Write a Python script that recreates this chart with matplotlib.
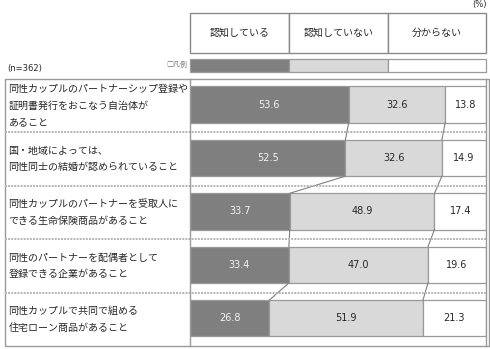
import matplotlib.pyplot as plt
from matplotlib.patches import Rectangle

plt.rcParams['font.family'] = ['Noto Sans CJK JP', 'DejaVu Sans']

# survey items (one row each), possibly over several lines
items = [
    ['同性カップルのパートナーシップ登録や', '証明書発行をおこなう自治体が', 'あること'],
    ['国・地域によっては、', '同性同士の結婚が認められていること'],
    ['同性カップルのパートナーを受取人に', 'できる生命保険商品があること'],
    ['同性のパートナーを配偶者として', '登録できる企業があること'],
    ['同性カップルで共同で組める', '住宅ローン商品があること'],
]
categories = ['認知している', '認知していない', '分からない']
aware = [53.6, 52.5, 33.7, 33.4, 26.8]
not_aware = [32.6, 32.6, 48.9, 47.0, 51.9]
unknown = [13.8, 14.9, 17.4, 19.6, 21.3]
sample_note = '(n=362)'

colors = ['#7f7f7f', '#d9d9d9', '#ffffff']
text_colors = ['#f2f2f2', '#262626', '#262626']
edge = '#9a9a9a'


def main():
    fig = plt.figure(figsize=(4.9, 3.49), dpi=100)
    ax = fig.add_axes([190 / 490, 3 / 349, 296 / 490, 267 / 349])
    ax.set_xlim(0, 100)
    ax.set_ylim(5, 0)
    ax.axis('off')

    bar_h = 0.68
    off = 0.48
    series = [aware, not_aware, unknown]

    # stacked bars
    for i in range(len(items)):
        left = 0
        for k, vals in enumerate(series):
            v = vals[i]
            ax.barh(i + off, v, left=left, height=bar_h, color=colors[k],
                    edgecolor=edge, linewidth=0.9)
            ax.text(left + v / 2, i + off, f'{v:.1f}', ha='center', va='center',
                    fontsize=7, family='DejaVu Sans', color=text_colors[k])
            left += v

    # connector lines between neighbouring bars
    for i in range(len(items) - 1):
        c0 = [aware[i], aware[i] + not_aware[i]]
        c1 = [aware[i + 1], aware[i + 1] + not_aware[i + 1]]
        for a, b in zip(c0, c1):
            ax.plot([a, b], [i + off + bar_h / 2, i + 1 + off - bar_h / 2],
                    color='#808080', lw=0.8)

    # dotted row separators across the label column and the plot
    for i in range(1, len(items)):
        ax.plot([-62.5, 100], [i, i], color='#b5b5b5', lw=1.4,
                linestyle=(0, (1, 0.6)), clip_on=False)

    # item labels in the left column
    pitch = 0.313
    for i, lines in enumerate(items):
        n = len(lines)
        for j, line in enumerate(lines):
            y = i + 0.5 + (j - (n - 1) / 2) * pitch
            ax.text(-61.3, y, line, ha='left', va='center', fontsize=7.2,
                    color='#262626', clip_on=False)

    # frames
    ax.add_patch(Rectangle((-62.5, 0), 163.5, 5, fill=False, edgecolor=edge,
                           lw=1.0, clip_on=False))
    ax.plot([0, 0], [0, 5], color=edge, lw=1.0, clip_on=False)
    ax.plot([100, 100], [0, 5], color=edge, lw=1.0, clip_on=False)

    # header boxes with category names
    bounds = [0, 33.4, 66.9, 100]
    for k, name in enumerate(categories):
        ax.add_patch(Rectangle((bounds[k], -1.236), bounds[k + 1] - bounds[k], 0.749,
                               facecolor='white', edgecolor='#8a8a8a', lw=1.0,
                               clip_on=False))
        ax.text((bounds[k] + bounds[k + 1]) / 2, -0.861, name, ha='center',
                va='center', fontsize=7.2, color='#262626', clip_on=False)
        # legend strip under the headers
        ax.add_patch(Rectangle((bounds[k], -0.375), bounds[k + 1] - bounds[k], 0.244,
                               facecolor=colors[k], edgecolor=edge, lw=0.9,
                               clip_on=False))

    ax.text(-1.0, -0.253, '□凡例', ha='right', va='center', fontsize=5,
            color='#777777', clip_on=False)
    ax.text(-61.8, -0.19, sample_note, ha='left', va='center', fontsize=6,
            family='DejaVu Sans', color='#262626', clip_on=False)
    ax.text(100.3, -1.39, '(%)', ha='right', va='center', fontsize=6,
            family='DejaVu Sans', color='#262626', clip_on=False)

    fig.savefig('out.png', dpi=100, facecolor='white')


if __name__ == '__main__':
    main()
